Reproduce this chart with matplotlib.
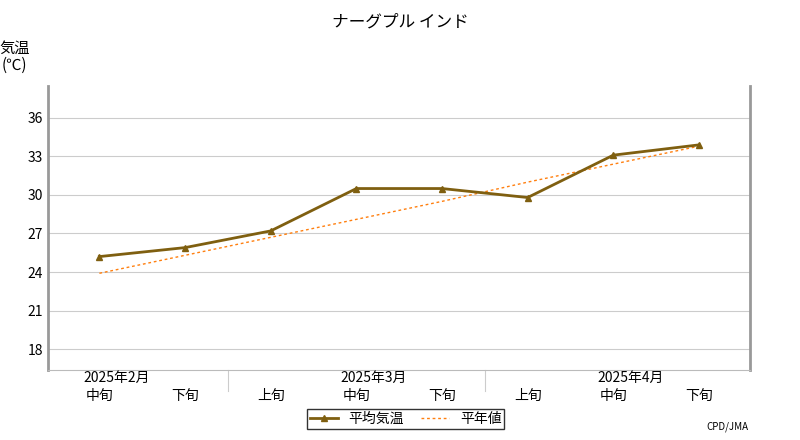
import matplotlib.pyplot as plt
import numpy as np

plt.rcParams["font.family"] = "Noto Sans CJK JP"

periods = ["中旬", "下旬", "上旬", "中旬", "下旬", "上旬", "中旬", "下旬"]
months = ["2025年2月", "2025年3月", "2025年4月"]
month_pos = [0.2, 3.2, 6.2]
heikin = [25.2, 25.9, 27.2, 30.5, 30.5, 29.8, 33.1, 33.9]
heinen = [23.9, 25.3, 26.7, 28.1, 29.5, 31.0, 32.4, 33.8]
yticks = [18, 21, 24, 27, 30, 33, 36]

x = np.arange(len(periods))
fig = plt.figure(figsize=(8, 4.4), dpi=100)
ax = fig.add_axes([0.06, 0.16, 0.878, 0.645])

ax.plot(x, heinen, color="#ff7f0e", linestyle=(0, (2, 2)), lw=1, label="平年値")
ax.plot(x, heikin, color="#7f5f10", lw=2, marker="^", ms=5, label="平均気温")

ax.set_xlim(-0.6, 7.6)
ax.set_ylim(16.4, 38.5)
ax.set_yticks(yticks)
ax.set_yticklabels([str(v) for v in yticks], fontsize=10)
ax.yaxis.grid(True, color="#cccccc", lw=0.8)
ax.tick_params(axis="y", length=0)
ax.set_xticks(x)
ax.set_xticklabels(periods, fontsize=10)
ax.tick_params(axis="x", length=0, pad=14)
for xx, m in zip(month_pos, months):
    ax.text(xx, 16.4 - 0.1, m, ha="center", va="top", fontsize=10)
for xx in [1.5, 4.5]:
    ax.plot([xx, xx], [16.4, 14.7], color="#cccccc", lw=0.8, clip_on=False)

for s in ["left", "right"]:
    ax.spines[s].set_color("#999999")
    ax.spines[s].set_linewidth(2)
ax.spines["top"].set_visible(False)
ax.spines["bottom"].set_color("#bbbbbb")

fig.text(0.5, 0.95, "ナーグプル インド", ha="center", va="center", fontsize=12)
fig.text(0.018, 0.87, "気温\n(℃)", ha="center", va="center", fontsize=11, linespacing=1.0)
fig.text(0.935, 0.03, "CPD/JMA", ha="right", va="center", fontsize=7)

h, l = ax.get_legend_handles_labels()
fig.legend(h[::-1], l[::-1], loc="center", bbox_to_anchor=(0.507, 0.048), ncol=2,
           fontsize=10, frameon=True, fancybox=False, edgecolor="black",
           borderpad=0.2, handlelength=2, columnspacing=1.2)

fig.savefig("out.png")
